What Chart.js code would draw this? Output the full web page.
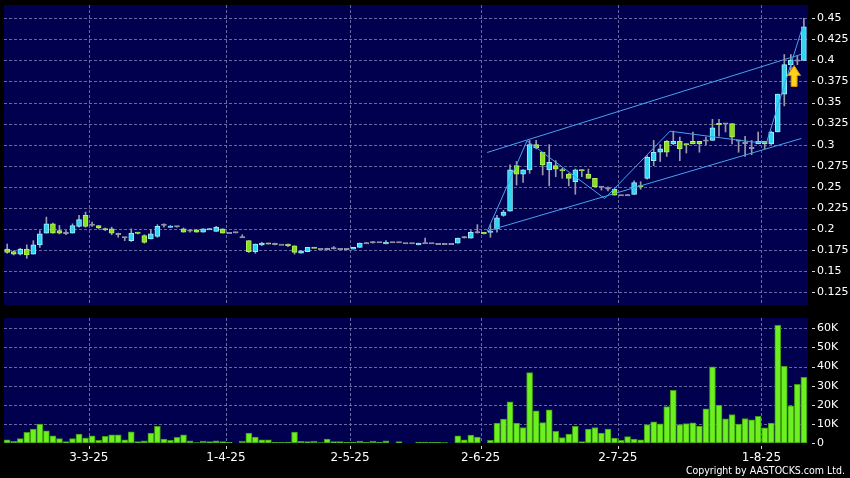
<!DOCTYPE html>
<html>
<head>
<meta charset="utf-8">
<script src="https://cdn.jsdelivr.net/npm/chart.js@4.4.1/dist/chart.umd.min.js"></script>
<style>
  html, body { margin: 0; padding: 0; background: #000; }
  #wrap { position: relative; width: 850px; height: 478px; background: #000; overflow: hidden; }
  #priceCanvas { position: absolute; left: 0; top: 0; width: 850px; height: 310px; }
  #volCanvas { position: absolute; left: 0; top: 310px; width: 850px; height: 168px; }
  #copy { position: absolute; right: 5px; top: 464px; color: #fff; font: 10.5px "DejaVu Sans Condensed", "DejaVu Sans", sans-serif; white-space: nowrap; }
</style>
</head>
<body>
<div id="wrap">
  <canvas id="priceCanvas" width="850" height="310"></canvas>
  <canvas id="volCanvas" width="850" height="168"></canvas>
  <div id="copy">Copyright by AASTOCKS.com Ltd.</div>
</div>
<script>
// date labels on the bottom axis and the bar (trading day) each one belongs to
const tickLabels = ['3-3-25', '1-4-25', '2-5-25', '2-6-25', '2-7-25', '1-8-25'];
const tickIndex = [12, 33, 52, 72, 93, 115];

const priceTicks = [0.125, 0.15, 0.175, 0.2, 0.225, 0.25, 0.275, 0.3, 0.325, 0.35, 0.375, 0.4, 0.425, 0.45];
const volumeTicks = [0, 10, 20, 30, 40, 50, 60]; // thousands

// daily OHLC, one entry per trading day (13-2-25 .. 12-8-25)
const open = [
  .176,.173,.170,.176,.170,.181,.195,.206,.198,.195,
  .195,.203,.216,.205,.204,.200,.200,.194,.190,.186,
  .196,.192,.188,.191,.205,.202,.203,.200,.198,.199,
  .196,.199,.197,.200,.195,.196,.190,.186,.173,.181,
  .183,.182,.181,.182,.180,.171,.173,.178,.176,.176,
  .177,.176,.176,.176,.178,.183,.184,.184,.182,.184,
  .184,.183,.183,.181,.183,.183,.182,.182,.182,.183,
  .190,.189,.196,.196,.196,.200,.216,.221,.275,.265,
  .270,.300,.291,.270,.275,.270,.265,.256,.270,.265,
  .260,.250,.248,.247,.240,.240,.241,.251,.260,.281,
  .291,.304,.301,.304,.301,.304,.304,.305,.305,.325,
  .325,.325,.305,.302,.296,.301,.304,.301,.315,.360,
  .395,.400,.400
];
const high = [
  .182,.174,.177,.181,.186,.198,.214,.207,.204,.198,
  .206,.216,.220,.208,.204,.201,.202,.195,.190,.200,
  .196,.193,.199,.205,.206,.204,.203,.201,.199,.199,
  .200,.200,.203,.200,.195,.196,.193,.186,.182,.184,
  .183,.183,.181,.182,.180,.174,.178,.178,.176,.177,
  .179,.176,.176,.178,.183,.184,.185,.184,.186,.184,
  .184,.183,.183,.183,.189,.183,.182,.182,.182,.189,
  .191,.198,.205,.196,.205,.216,.222,.276,.280,.270,
  .305,.305,.291,.300,.281,.272,.266,.271,.270,.271,
  .260,.250,.250,.248,.240,.241,.257,.256,.287,.305,
  .300,.305,.316,.309,.301,.315,.304,.309,.330,.330,
  .325,.325,.305,.310,.305,.315,.304,.316,.360,.407,
  .407,.405,.450
];
const low = [
  .171,.169,.169,.165,.170,.178,.195,.195,.194,.193,
  .195,.202,.202,.203,.200,.198,.193,.190,.186,.185,
  .194,.183,.188,.190,.202,.202,.202,.196,.196,.196,
  .196,.199,.197,.195,.195,.195,.190,.172,.171,.180,
  .182,.181,.181,.179,.170,.171,.173,.177,.176,.175,
  .176,.176,.175,.176,.178,.183,.183,.184,.182,.184,
  .184,.183,.183,.181,.183,.183,.182,.182,.182,.183,
  .189,.189,.195,.194,.190,.196,.215,.221,.252,.255,
  .266,.295,.264,.251,.262,.260,.251,.241,.262,.260,
  .250,.246,.245,.240,.240,.240,.241,.247,.259,.275,
  .280,.286,.300,.281,.290,.301,.291,.300,.305,.310,
  .315,.301,.291,.286,.288,.301,.295,.300,.315,.346,
  .385,.395,.400
];
const close = [
  .172,.170,.176,.169,.181,.194,.206,.195,.195,.195,
  .204,.211,.203,.205,.201,.199,.195,.194,.190,.195,
  .195,.184,.194,.203,.205,.203,.203,.196,.198,.196,
  .200,.200,.202,.195,.195,.196,.190,.173,.182,.183,
  .182,.182,.181,.180,.172,.174,.178,.177,.176,.176,
  .177,.176,.176,.178,.183,.183,.184,.184,.184,.184,
  .184,.183,.183,.183,.183,.183,.182,.182,.182,.189,
  .190,.196,.196,.194,.197,.213,.220,.270,.265,.270,
  .300,.296,.276,.279,.271,.269,.260,.270,.269,.260,
  .250,.250,.248,.240,.240,.240,.255,.250,.285,.291,
  .295,.291,.304,.295,.300,.301,.301,.305,.320,.324,
  .325,.309,.305,.302,.296,.304,.301,.315,.360,.395,
  .400,.400,.440
];
// volume in thousands of shares
const volume = [
  1.7,0.9,2.3,5.6,7.3,9.9,6.4,3.8,2.3,0.7,
  2.3,4.7,2.6,3.8,1.4,3.5,4.3,4.3,1.7,5.9,
  0.7,1.2,5.2,8.7,2.1,1.4,3.0,4.3,1.2,0.2,
  1.0,0.7,1.2,0.7,0.3,0.0,1.0,5.2,3.1,1.7,
  1.7,0.3,0.3,0.5,5.7,0.9,0.7,1.0,0.2,2.1,
  0.7,0.7,0.3,0.5,1.0,0.3,1.0,0.5,1.2,0.0,
  0.7,0.0,0.0,0.5,0.5,0.3,0.3,0.2,0.0,3.8,
  1.7,4.1,3.1,0.0,1.4,10.4,12.5,21.5,10.4,8.1,
  36.8,16.8,10.7,17.4,6.1,2.9,4.7,8.7,0.7,7.3,
  8.1,5.2,7.3,2.6,1.4,3.3,2.1,1.7,9.7,11.1,
  10.0,19.1,27.6,9.7,10.2,10.6,8.8,17.9,39.8,19.8,
  12.7,14.9,9.9,12.8,12.1,13.9,7.9,10.4,61.5,40.1,
  19.4,30.7,34.4
];

// hand drawn trend lines: bar index / price pairs
const upperX = [73.5, 121.6], upperY = [0.2907, 0.4073];
const lowerX = [73.5, 121.6], lowerY = [0.1974, 0.3073];
const zigX = [73.5, 79.6, 91.5, 101.5, 114.3, 116.3, 121.8];
const zigY = [0.197, 0.3045, 0.236, 0.316, 0.303, 0.303, 0.440];
// yellow arrow tip
const arrowX = 120.5, arrowY = 0.394;

const X_MIN = -0.49, X_MAX = 122.63;
const TICK_SHIFT = 0.5; // month lines sit on the bar boundary
const NAVY = '#00004e';
const GRID = 'rgba(115,115,170,0.9)';
const UP = '#2fd6f2', UP_EDGE = '#9cefff';
const DOWN = '#86e01f', DOWN_EDGE = '#b6f066';
const FLAT = '#9a9aaa';
const LINE = '#45a3ee';

Chart.defaults.font.family = '"DejaVu Sans", sans-serif';
Chart.defaults.font.size = 11;
Chart.defaults.color = '#ffffff';

function pairs(xs, ys) {
  return xs.map((x, i) => ({ x: x, y: ys[i] }));
}

// background, dashed grid and little outside tick marks
const panel = {
  id: 'panel',
  beforeDraw(chart) {
    const { ctx, chartArea: a } = chart;
    const xs = chart.scales.x, ys = chart.scales.y;
    ctx.save();
    ctx.fillStyle = '#000';
    ctx.fillRect(0, 0, chart.width, chart.height);
    ctx.fillStyle = NAVY;
    ctx.fillRect(a.left, a.top, a.right - a.left, a.bottom - a.top);
    ctx.strokeStyle = GRID;
    ctx.lineWidth = 1;
    ctx.setLineDash([3, 2]);
    ctx.beginPath();
    ys.ticks.forEach(t => {
      const y = Math.round(ys.getPixelForValue(t.value)) + 0.5;
      if (y > a.bottom - 1) return;
      ctx.moveTo(a.left, y);
      ctx.lineTo(a.right, y);
    });
    tickIndex.forEach(v => {
      const x = Math.round(xs.getPixelForValue(v + TICK_SHIFT)) + 0.5;
      ctx.moveTo(x, a.top);
      ctx.lineTo(x, a.bottom);
    });
    ctx.stroke();
    ctx.restore();
  },
  afterDraw(chart, args, opts) {
    const { ctx, chartArea: a } = chart;
    const xs = chart.scales.x, ys = chart.scales.y;
    ctx.save();
    ctx.strokeStyle = '#d8d8d8';
    ctx.lineWidth = 1;
    ctx.beginPath();
    ys.ticks.forEach(t => {
      const y = Math.round(ys.getPixelForValue(t.value)) + 0.5;
      ctx.moveTo(a.right + 4, y);
      ctx.lineTo(a.right + 7, y);
    });
    if (opts.dateTicks) {
      tickIndex.forEach(v => {
        const x = Math.round(xs.getPixelForValue(v + TICK_SHIFT)) + 0.5;
        ctx.moveTo(x, a.bottom + 3);
        ctx.lineTo(x, a.bottom + 6);
      });
    }
    ctx.stroke();
    ctx.restore();
  }
};

const arrow = {
  id: 'arrow',
  afterDatasetsDraw(chart) {
    const { ctx } = chart;
    const x = chart.scales.x.getPixelForValue(arrowX);
    const y = chart.scales.y.getPixelForValue(arrowY);
    ctx.save();
    ctx.beginPath();
    ctx.moveTo(x, y);
    ctx.lineTo(x + 6.5, y + 10);
    ctx.lineTo(x + 3, y + 10);
    ctx.lineTo(x + 3, y + 21);
    ctx.lineTo(x - 3, y + 21);
    ctx.lineTo(x - 3, y + 10);
    ctx.lineTo(x - 6.5, y + 10);
    ctx.closePath();
    ctx.fillStyle = '#ffd21a';
    ctx.fill();
    ctx.strokeStyle = '#d08a00';
    ctx.lineWidth = 1;
    ctx.stroke();
    ctx.restore();
  }
};

function noPad(scale) {
  scale.paddingTop = 0;
  scale.paddingBottom = 0;
  scale.paddingLeft = 0;
  scale.paddingRight = 0;
}

const isUp = open.map((o, i) => close[i] > o);
const isDown = open.map((o, i) => close[i] < o);

const bodies = open.map((o, i) => {
  let lo = Math.min(o, close[i]), hi = Math.max(o, close[i]);
  const minSpan = 0.0016;
  if (hi - lo < minSpan) {
    const mid = (hi + lo) / 2;
    lo = mid - minSpan / 2;
    hi = mid + minSpan / 2;
  }
  return { x: i, y: [lo, hi] };
});
const wicks = open.map((o, i) => ({ x: i, y: [low[i], high[i]] }));

new Chart(document.getElementById('priceCanvas'), {
  type: 'bar',
  data: {
    datasets: [
      {
        type: 'line', data: pairs(zigX, zigY), borderColor: LINE, borderWidth: 1,
        pointRadius: 0, fill: false, tension: 0, order: 0
      },
      {
        type: 'line', data: pairs(upperX, upperY), borderColor: LINE, borderWidth: 1,
        pointRadius: 0, fill: false, order: 0
      },
      {
        type: 'line', data: pairs(lowerX, lowerY), borderColor: LINE, borderWidth: 1,
        pointRadius: 0, fill: false, order: 0
      },
      {
        data: bodies,
        backgroundColor: open.map((o, i) => isUp[i] ? UP : isDown[i] ? DOWN : FLAT),
        borderColor: open.map((o, i) => isUp[i] ? UP_EDGE : isDown[i] ? DOWN_EDGE : FLAT),
        borderWidth: 1, borderSkipped: false, barThickness: 5, grouped: false, order: 1
      },
      {
        data: wicks, backgroundColor: FLAT, borderWidth: 0,
        barThickness: 1, grouped: false, order: 2
      }
    ]
  },
  options: {
    responsive: false,
    animation: false,
    devicePixelRatio: 1,
    layout: { padding: { left: 4, top: 5, right: 0, bottom: 5 } },
    plugins: { legend: { display: false }, tooltip: { enabled: false }, panel: { dateTicks: false } },
    scales: {
      x: {
        type: 'linear', min: X_MIN, max: X_MAX, offset: false,
        grid: { display: false, drawTicks: false, offset: false },
        border: { display: false },
        ticks: { display: false },
        afterFit: s => { s.height = 0; noPad(s); }
      },
      y: {
        position: 'right', min: 0.1096, max: 0.4658,
        grid: { display: false, drawTicks: false },
        border: { display: false },
        afterBuildTicks: s => { s.ticks = priceTicks.map(v => ({ value: v })); },
        ticks: { color: '#fff', padding: 9, callback: v => String(+v.toFixed(3)) },
        afterFit: s => { s.width = 42; noPad(s); }
      }
    }
  },
  plugins: [panel, arrow]
});

new Chart(document.getElementById('volCanvas'), {
  type: 'bar',
  data: {
    datasets: [{
      data: volume.map((v, i) => ({ x: i, y: v })),
      backgroundColor: '#6cf020',
      borderColor: '#3f9a12',
      borderWidth: 1,
      borderSkipped: false,
      barThickness: 6
    }]
  },
  options: {
    responsive: false,
    animation: false,
    devicePixelRatio: 1,
    layout: { padding: { left: 4, top: 8, right: 0, bottom: 0 } },
    plugins: { legend: { display: false }, tooltip: { enabled: false }, panel: { dateTicks: true } },
    scales: {
      x: {
        type: 'linear', min: X_MIN, max: X_MAX, offset: false,
        grid: { display: false, drawTicks: false, offset: false },
        border: { display: false },
        afterBuildTicks: s => { s.ticks = tickIndex.map(v => ({ value: v + TICK_SHIFT })); },
        ticks: {
          color: '#fff', padding: 8, maxRotation: 0, autoSkip: false,
          font: { size: 12 },
          callback: (v, i) => tickLabels[i]
        },
        afterFit: s => { s.height = 35; noPad(s); }
      },
      y: {
        position: 'right', min: 0, max: 65.4,
        grid: { display: false, drawTicks: false },
        border: { display: false },
        afterBuildTicks: s => { s.ticks = volumeTicks.map(v => ({ value: v })); },
        ticks: { color: '#fff', padding: 9, callback: v => v === 0 ? '0' : v + 'K' },
        afterFit: s => { s.width = 42; noPad(s); }
      }
    }
  },
  plugins: [panel]
});
</script>
</body>
</html>
